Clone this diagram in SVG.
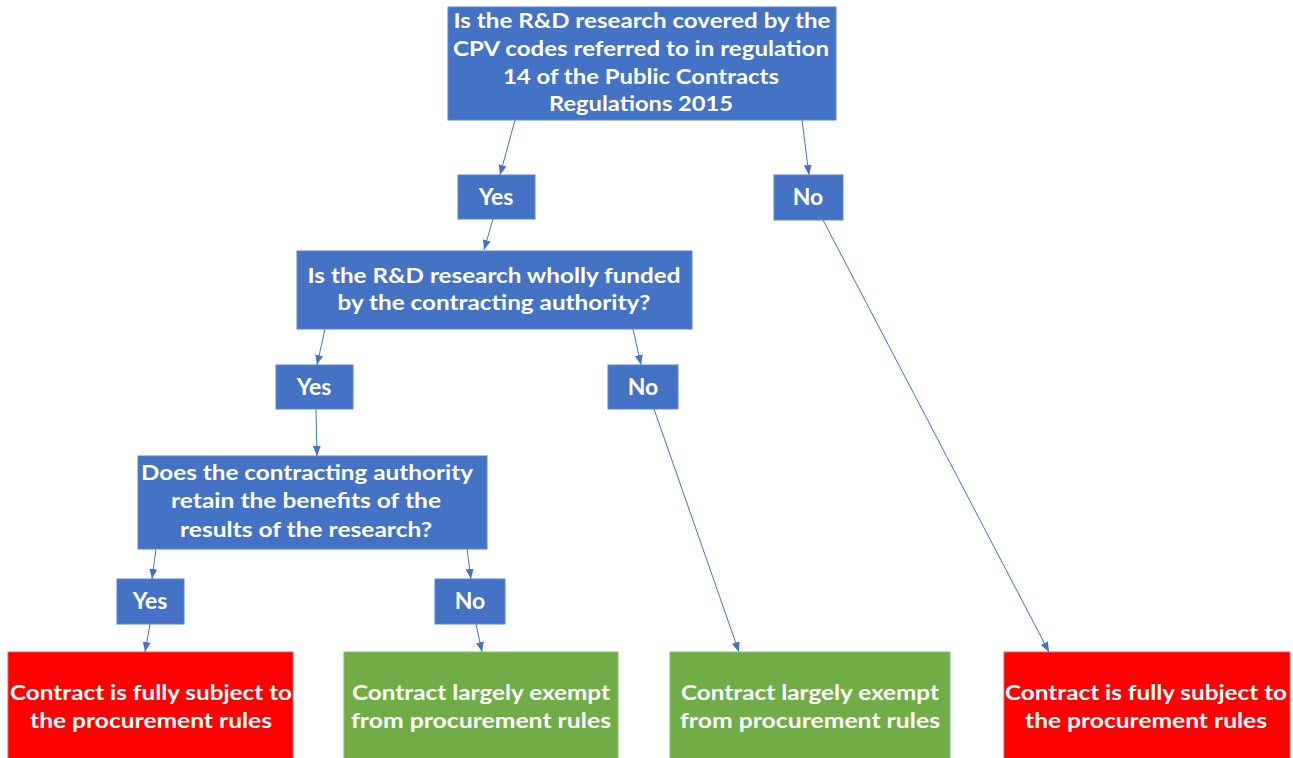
<svg xmlns="http://www.w3.org/2000/svg" width="1293" height="758" viewBox="0 0 1293 758">
<defs>
<marker id="ah" markerUnits="userSpaceOnUse" markerWidth="10" markerHeight="10" viewBox="0 0 10 10" refX="10" refY="5" orient="auto">
<path d="M0,1 L10,5 L0,9 z" fill="#4472C4"/>
</marker>
</defs>
<style>
.q{fill:#4472C4;stroke:#5B84CC;stroke-width:1}
.r{fill:#FF0000;stroke:#F25C5C;stroke-width:1}
.g{fill:#70AD47;stroke:#8CBF6B;stroke-width:1}
.t{font-family:Lato,"Open Sans","Liberation Sans",sans-serif;font-weight:bold;font-size:21px;fill:#FFFFFF;text-anchor:middle}
.l{font-size:23px}
.c{stroke:#4472C4;stroke-width:1;fill:none;marker-end:url(#ah)}
</style>
<rect width="1293" height="758" fill="#FFFFFF"/>
<g id="connectors">
<line class="c" x1="515" y1="120" x2="500" y2="175"/>
<line class="c" x1="802" y1="120" x2="809" y2="175"/>
<line class="c" x1="493" y1="219" x2="484" y2="250"/>
<line class="c" x1="325" y1="329" x2="317" y2="365"/>
<line class="c" x1="633" y1="329" x2="641" y2="365"/>
<line class="c" x1="316" y1="409" x2="317" y2="456"/>
<line class="c" x1="156" y1="549" x2="152" y2="579"/>
<line class="c" x1="467" y1="549" x2="471" y2="579"/>
<line class="c" x1="150" y1="624" x2="145" y2="652"/>
<line class="c" x1="476" y1="624" x2="482" y2="652"/>
<line class="c" x1="654" y1="409" x2="739" y2="652"/>
<line class="c" x1="823" y1="220" x2="1049" y2="652"/>
</g>
<g id="q1">
<rect class="q" x="448" y="7" width="388" height="113"/>
<text class="t" x="642" y="28" textLength="377" lengthAdjust="spacingAndGlyphs">Is the R&amp;D research covered by the</text>
<text class="t" x="641" y="56" textLength="376" lengthAdjust="spacingAndGlyphs">CPV codes referred to in regulation</text>
<text class="t" x="641" y="84" textLength="276" lengthAdjust="spacingAndGlyphs">14 of the Public Contracts</text>
<text class="t" x="641" y="111" textLength="184" lengthAdjust="spacingAndGlyphs">Regulations 2015</text>
</g>
<g id="yes1">
<rect class="q" x="458" y="175" width="77" height="44"/>
<text class="t l" x="496" y="205">Yes</text>
</g>
<g id="no1">
<rect class="q" x="774" y="175" width="69" height="45"/>
<text class="t l" x="808" y="205">No</text>
</g>
<g id="q2">
<rect class="q" x="297" y="251" width="395" height="78"/>
<text class="t" x="494" y="283" textLength="373" lengthAdjust="spacingAndGlyphs">Is the R&amp;D research wholly funded</text>
<text class="t" x="494" y="310" textLength="313" lengthAdjust="spacingAndGlyphs">by the contracting authority?</text>
</g>
<g id="yes2">
<rect class="q" x="276" y="365" width="77" height="44"/>
<text class="t l" x="314" y="395">Yes</text>
</g>
<g id="no2">
<rect class="q" x="608" y="365" width="70" height="44"/>
<text class="t l" x="643" y="395">No</text>
</g>
<g id="q3">
<rect class="q" x="138" y="456" width="349" height="93"/>
<text class="t" x="307" y="480" textLength="332" lengthAdjust="spacingAndGlyphs">Does the contracting authority</text>
<text class="t" x="306" y="508" textLength="270" lengthAdjust="spacingAndGlyphs">retain the benefits of the</text>
<text class="t" x="306" y="537" textLength="252" lengthAdjust="spacingAndGlyphs">results of the research?</text>
</g>
<g id="yes3">
<rect class="q" x="117" y="579" width="67" height="45"/>
<text class="t l" x="150" y="609">Yes</text>
</g>
<g id="no3">
<rect class="q" x="435" y="579" width="70" height="45"/>
<text class="t l" x="470" y="609">No</text>
</g>
<g id="end1">
<rect class="r" x="8" y="652" width="285" height="110"/>
<text class="t" x="151" y="700" textLength="282" lengthAdjust="spacingAndGlyphs">Contract is fully subject to</text>
<text class="t" x="151" y="728" textLength="242" lengthAdjust="spacingAndGlyphs">the procurement rules</text>
</g>
<g id="end2">
<rect class="g" x="344" y="652" width="274" height="110"/>
<text class="t" x="481" y="700" textLength="258" lengthAdjust="spacingAndGlyphs">Contract largely exempt</text>
<text class="t" x="481" y="728" textLength="260" lengthAdjust="spacingAndGlyphs">from procurement rules</text>
</g>
<g id="end3">
<rect class="g" x="670" y="652" width="280" height="110"/>
<text class="t" x="810" y="700" textLength="258" lengthAdjust="spacingAndGlyphs">Contract largely exempt</text>
<text class="t" x="810" y="728" textLength="260" lengthAdjust="spacingAndGlyphs">from procurement rules</text>
</g>
<g id="end4">
<rect class="r" x="1004" y="652" width="286" height="110"/>
<text class="t" x="1146" y="700" textLength="282" lengthAdjust="spacingAndGlyphs">Contract is fully subject to</text>
<text class="t" x="1146" y="728" textLength="242" lengthAdjust="spacingAndGlyphs">the procurement rules</text>
</g>
</svg>
